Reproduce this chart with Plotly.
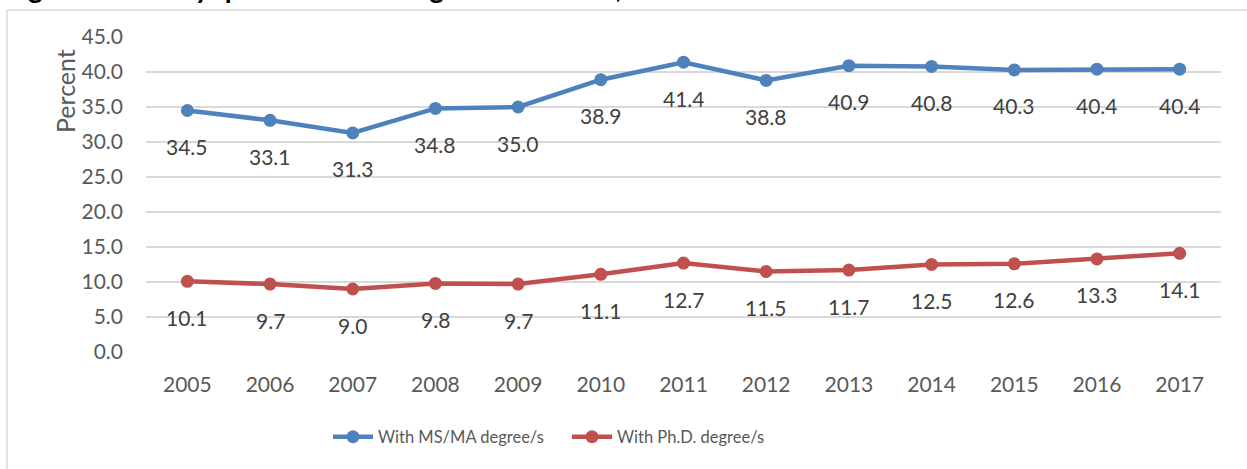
import plotly.graph_objects as go

# Faculty qualification in higher education, 2005-2017
years = ["2005", "2006", "2007", "2008", "2009", "2010", "2011",
         "2012", "2013", "2014", "2015", "2016", "2017"]
ms_ma = [34.5, 33.1, 31.3, 34.8, 35.0, 38.9, 41.4, 38.8, 40.9, 40.8, 40.3, 40.4, 40.4]
phd = [10.1, 9.7, 9.0, 9.8, 9.7, 11.1, 12.7, 11.5, 11.7, 12.5, 12.6, 13.3, 14.1]
y_ticks = [0, 5, 10, 15, 20, 25, 30, 35, 40, 45]

BLUE = "#4f81bd"
RED = "#c0504d"
GRID = "#d9d9d9"
TEXT = "#595959"
LABEL = "#404040"
FONT = "Lato, 'Open Sans', sans-serif"

W, H = 1247, 469
ML, MR, MT, MB = 146, 26, 37, 117
PW, PH = W - ML - MR, H - MT - MB


def px_x(p):
    return (p - ML) / PW


def px_y(p):
    return (H - MB - p) / PH


fig = go.Figure()
series = [("With MS/MA degree/s", ms_ma, BLUE), ("With Ph.D. degree/s", phd, RED)]
for name, vals, col in series:
    fig.add_trace(go.Scatter(
        x=years, y=vals, name=name, mode="lines+markers",
        line=dict(color=col, width=4.5),
        marker=dict(color=col, size=13),
        cliponaxis=False,
    ))

# value labels under each point (category axis -> position index)
annotations = []
for name, vals, col in series:
    for i, v in enumerate(vals):
        annotations.append(dict(
            x=i, y=v, xref="x", yref="y", text=f"{v:.1f}", showarrow=False,
            yshift=-36, font=dict(family=FONT, size=21, color=LABEL),
        ))

# axis title placed near the top of the value axis
annotations.append(dict(
    x=px_x(65), y=px_y(91), xref="paper", yref="paper", text="Percent",
    showarrow=False, textangle=-90, xanchor="center", yanchor="middle",
    font=dict(family=FONT, size=25, color=TEXT),
))

# figure caption line above the chart frame
annotations.append(dict(
    x=px_x(3), y=px_y(6), xref="paper", yref="paper",
    text="<b>Figure 5. Faculty qualification in higher education, 2005-2017</b>",
    showarrow=False, xanchor="left", yanchor="bottom",
    font=dict(family=FONT, size=28, color="#000000"),
))

fig.update_layout(
    width=W, height=H,
    margin=dict(l=ML, r=MR, t=MT, b=MB),
    paper_bgcolor="white", plot_bgcolor="white",
    showlegend=True,
    legend=dict(
        orientation="h", x=px_x(328), y=px_y(437), xanchor="left", yanchor="middle",
        font=dict(family=FONT, size=16.5, color=TEXT),
        entrywidth=184, entrywidthmode="pixels", itemwidth=40,
        bgcolor="rgba(0,0,0,0)",
    ),
    annotations=annotations,
    shapes=[dict(
        type="rect", xref="paper", yref="paper",
        x0=px_x(7), x1=px_x(1265), y0=px_y(490), y1=px_y(10),
        line=dict(color=GRID, width=1.5), fillcolor="rgba(0,0,0,0)", layer="below",
    )],
    xaxis=dict(
        type="category", range=[-0.5, len(years) - 0.5],
        showgrid=False, zeroline=False, showline=False,
        ticks="", tickfont=dict(family=FONT, size=21, color=TEXT),
        ticklabelstandoff=18,
    ),
    yaxis=dict(
        range=[0, 45], tickvals=y_ticks, tickformat=".1f",
        showgrid=True, gridcolor=GRID, gridwidth=1.5,
        zeroline=False, showline=False, ticks="",
        tickfont=dict(family=FONT, size=21, color=TEXT),
        ticklabelstandoff=22,
    ),
)

fig.write_html("out.html")
